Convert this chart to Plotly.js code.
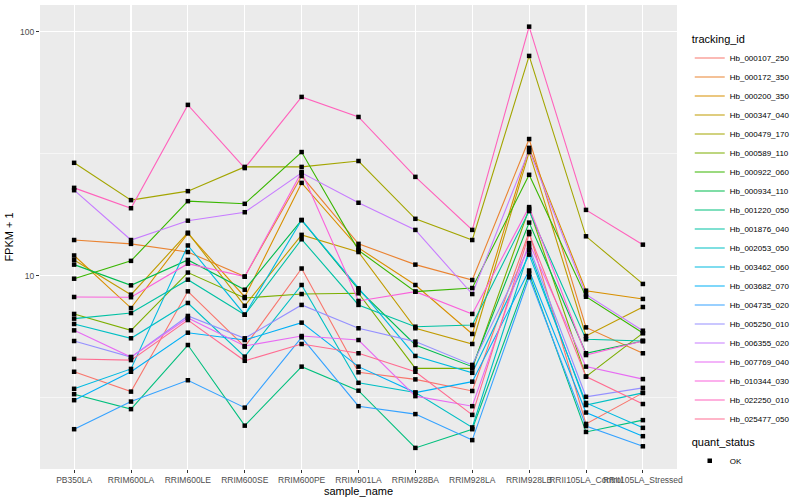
<!DOCTYPE html>
<html><head><meta charset="utf-8">
<script src="https://cdn.plot.ly/plotly-3.0.1.min.js"></script>
<style>html,body{margin:0;padding:0;background:#fff}#chart{width:800px;height:500px}</style>
</head><body><div id="chart"></div>
<script>
const samples = ["PB350LA","RRIM600LA","RRIM600LE","RRIM600SE","RRIM600PE","RRIM901LA","RRIM928BA","RRIM928LA","RRIM928LB","RRII105LA_Control","RRII105LA_Stressed"];
const trackingIds = ["Hb_000107_250","Hb_000172_350","Hb_000200_350","Hb_000347_040","Hb_000479_170","Hb_000589_110","Hb_000922_060","Hb_000934_110","Hb_001220_050","Hb_001876_040","Hb_002053_050","Hb_003462_060","Hb_003682_070","Hb_004735_020","Hb_005250_010","Hb_006355_020","Hb_007769_040","Hb_010344_030","Hb_022250_010","Hb_025477_050"];
const colors = ["#F8766D","#EA8331","#D89000","#C09B00","#A3A500","#7CAE00","#39B600","#00BB4E","#00BF7D","#00C1A3","#00BFC4","#00BAE0","#00B0F6","#35A2FF","#9590FF","#C77CFF","#E76BF3","#FA62DB","#FF62BC","#FF6C91"];

// FPKM + 1 per sample
const hb_000107_250 = [4.04, 3.35, 8.63, 5.12, 10.7, 4.02, 3.76, 3.37, 15.1, 2.47, 3.31];
const hb_000172_350 = [14.0, 13.5, 12.5, 9.92, 25.6, 13.5, 11.1, 9.60, 36.3, 6.14, 4.81];
const hb_000200_350 = [12.1, 7.37, 14.9, 8.18, 24.0, 13.0, 9.16, 5.77, 33.4, 8.68, 8.03];
const hb_000347_040 = [11.6, 8.36, 15.0, 7.53, 14.7, 12.5, 6.09, 5.25, 32.1, 5.66, 7.44];
const hb_000479_170 = [29.0, 20.4, 22.2, 27.9, 27.9, 29.5, 17.1, 14.0, 79.5, 14.5, 9.25];
const hb_000589_110 = [6.97, 5.97, 10.3, 8.10, 8.41, 8.47, 4.17, 4.17, 18.8, 3.86, 5.82];
const hb_000922_060 = [9.72, 11.5, 20.2, 19.7, 32.1, 12.7, 8.60, 8.90, 25.9, 8.20, 5.82];
const hb_000934_110 = [11.1, 9.13, 11.6, 8.76, 16.9, 8.78, 5.20, 4.24, 16.5, 4.81, 5.40];
const hb_001220_050 = [3.27, 2.84, 5.20, 2.43, 4.24, 3.38, 1.97, 2.35, 10.2, 2.29, 2.56];
const hb_001876_040 = [6.67, 7.03, 9.63, 6.92, 14.1, 7.59, 6.18, 6.28, 18.4, 5.49, 5.40];
const hb_002053_050 = [6.34, 5.54, 7.73, 4.66, 9.16, 3.64, 3.32, 2.39, 12.7, 2.95, 3.31];
const hb_003462_060 = [3.44, 4.15, 13.3, 6.92, 16.9, 8.88, 4.69, 4.00, 12.2, 3.01, 2.38];
const hb_003682_070 = [3.09, 4.04, 5.84, 5.45, 6.42, 4.24, 3.32, 3.68, 10.5, 2.75, 2.20];
const hb_004735_020 = [2.35, 3.05, 3.73, 2.88, 5.59, 2.92, 2.71, 2.12, 9.85, 2.42, 2.00];
const hb_005250_010 = [5.40, 4.64, 6.84, 5.54, 7.59, 6.09, 5.37, 4.31, 13.1, 3.19, 3.47];
const hb_006355_020 = [22.4, 14.0, 16.8, 18.2, 26.4, 19.9, 15.4, 8.41, 32.7, 8.38, 5.95];
const hb_007769_040 = [5.97, 4.64, 6.71, 5.15, 5.66, 5.45, 3.21, 2.92, 13.6, 4.24, 3.77];
const hb_010344_030 = [8.18, 8.16, 11.2, 9.91, 26.6, 7.88, 8.60, 6.97, 19.1, 4.73, 5.40];
const hb_022250_010 = [22.9, 18.9, 50.1, 27.6, 54.0, 44.7, 25.4, 15.4, 104.8, 18.6, 13.4];
const hb_025477_050 = [4.56, 4.51, 6.58, 4.48, 5.25, 4.81, 4.04, 2.69, 14.8, 3.86, 2.98];

const yTickVals = [10, 100];
const yTickText = ["10", "100"];
const yMinorVals = [3.1623, 31.623];

const seriesValues = [hb_000107_250, hb_000172_350, hb_000200_350, hb_000347_040, hb_000479_170, hb_000589_110, hb_000922_060, hb_000934_110, hb_001220_050, hb_001876_040, hb_002053_050, hb_003462_060, hb_003682_070, hb_004735_020, hb_005250_010, hb_006355_020, hb_007769_040, hb_010344_030, hb_022250_010, hb_025477_050];

const FONT = "Liberation Sans, Arial, sans-serif";
const traces = seriesValues.map((vals, i) => ({
  type: "scatter", mode: "lines", x: samples, y: vals, name: trackingIds[i],
  line: {color: colors[i], width: 1.1}, legend: "legend", hoverinfo: "skip"
}));

const allX = [], allY = [];
seriesValues.forEach(vals => vals.forEach((v, j) => { allX.push(samples[j]); allY.push(v); }));
traces.push({
  type: "scatter", mode: "markers", x: allX, y: allY, name: "OK",
  marker: {symbol: "square", size: 4.5, color: "#000000"}, legend: "legend2", hoverinfo: "skip"
});

const layout = {
  width: 800, height: 500,
  margin: {l: 40, r: 116, t: 5, b: 31},
  paper_bgcolor: "#FFFFFF", plot_bgcolor: "#EBEBEB",
  font: {family: FONT, color: "#000000"},
  xaxis: {
    type: "category", categoryorder: "array", categoryarray: samples,
    range: [-0.6, 10.6], automargin: false,
    showgrid: true, gridcolor: "#FFFFFF", gridwidth: 1.1, zeroline: false, showline: false,
    ticks: "outside", ticklen: 3, tickcolor: "#333333", tickwidth: 1,
    tickangle: 0, tickfont: {size: 8.5, color: "#4D4D4D", family: FONT},
    title: {text: "sample_name", font: {size: 11, color: "#000000", family: FONT}, standoff: 2}
  },
  yaxis: {
    type: "log", range: [0.208, 2.109], automargin: false,
    tickmode: "array", tickvals: yTickVals, ticktext: yTickText,
    showgrid: true, gridcolor: "#FFFFFF", gridwidth: 1.1, zeroline: false, showline: false,
    ticks: "outside", ticklen: 3, tickcolor: "#333333", tickwidth: 1,
    tickfont: {size: 8.5, color: "#4D4D4D", family: FONT},
    minor: {tickmode: "array", tickvals: yMinorVals, showgrid: true, gridcolor: "#FFFFFF", gridwidth: 0.55, ticks: ""},
    title: {text: "FPKM + 1", font: {size: 11, color: "#000000", family: FONT}, standoff: 4}
  },
  legend: {
    x: 1.02, xanchor: "left", y: 0.948, yanchor: "top",
    font: {size: 8, family: FONT, color: "#000000"},
    title: {text: "tracking_id", font: {size: 11, family: FONT}},
    itemwidth: 30, tracegroupgap: 0, bgcolor: "rgba(0,0,0,0)"
  },
  legend2: {
    x: 1.02, xanchor: "left", y: 0.080, yanchor: "top",
    font: {size: 8, family: FONT, color: "#000000"},
    title: {text: "quant_status", font: {size: 11, family: FONT}},
    itemwidth: 30, bgcolor: "rgba(0,0,0,0)"
  },
  showlegend: true
};

Plotly.newPlot("chart", traces, layout, {displayModeBar: false, staticPlot: true});
</script>
</body></html>
